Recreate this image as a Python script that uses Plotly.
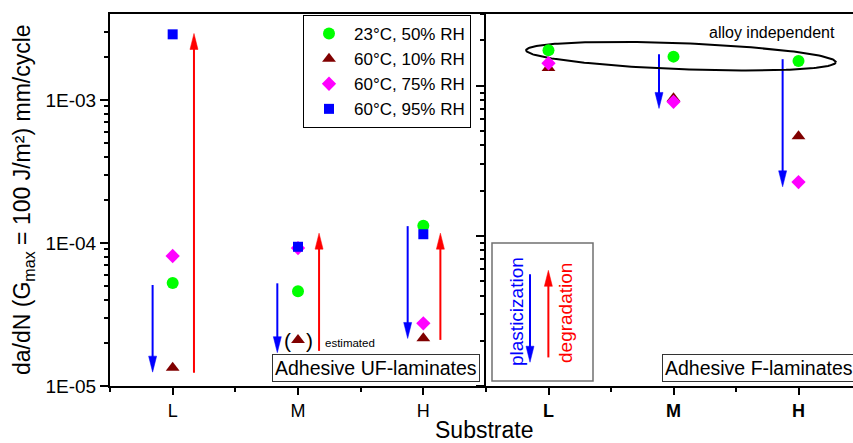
import numpy as np
import plotly.graph_objects as go

# ---------------- data ----------------
substrates = ["L", "M", "H"]
cat_x = [1, 2, 3]

series_names = ["23°C, 50% RH", "60°C, 10% RH", "60°C, 75% RH", "60°C, 95% RH"]
series_colors = ["#00ff00", "#800000", "#ff00ff", "#0000ff"]
series_symbols = ["circle", "triangle-up", "diamond", "square"]
series_sizes = [12, 12, 11, 10]

# Adhesive UF-laminates (left panel), da/dN in mm/cycle
uf_23_50 = [5.25e-5, 4.6e-5, 1.32e-4]
uf_60_10 = [1.34e-5, 2.1e-5, 2.16e-5]   # M value is estimated
uf_60_75 = [8.1e-5, 9.2e-5, 2.74e-5]
uf_60_95 = [2.87e-3, 9.4e-5, 1.15e-4]

# Adhesive F-laminates (right panel)
f_23_50 = [1.72e-3, 1.56e-3, 1.46e-3]
f_60_10 = [1.31e-3, 8.25e-4, 4.6e-4]
f_60_75 = [1.41e-3, 7.8e-4, 2.28e-4]

# arrows (x position on category axis, start value, end value)
uf_plast_x = [0.84, 1.835, 2.875]
uf_plast_from = [5.08e-5, 5.22e-5, 1.31e-4]
uf_plast_to = [1.25e-5, 1.71e-5, 2.15e-5]
uf_degr_x = [1.17, 2.168, 3.136]
uf_degr_from = [1.24e-5, 1.76e-5, 2.1e-5]
uf_degr_to = [2.91e-3, 1.17e-4, 1.17e-4]
f_plast_x = [1.884, 2.873]
f_plast_from = [1.62e-3, 1.50e-3]
f_plast_to = [7.05e-4, 2.12e-4]
key_x = [0.852, 0.999]
key_from = [5.54e-5, 1.55e-5]
key_to = [1.44e-5, 5.89e-5]
key_colors = ["#0000ff", "#ff0000"]

# ellipse "alloy independent" (centre on right panel)
ell_cx = 2.06
ell_cy = 1.57e-3

y_tickvals = [1e-5, 1e-4, 1e-3]
y_ticktext = ["1E-05", "1E-04", "1E-03"]

# ---------------- layout constants ----------------
W, H = 853, 443
ML, MR, MT, MB = 110, 0, 14, 57
PW, PH = W - ML - MR, H - MT - MB
split_px = 486
d1 = (split_px - ML) / PW
x1_range = [0.5, 3.5]
y1_range = [-5, -2.4]
x2_range = [0.5, 0.5 + (W - split_px) / 125.0]
y2_range = [-5, -2.523]
ppx1 = (split_px - ML) / (x1_range[1] - x1_range[0])
ppd1 = PH / (y1_range[1] - y1_range[0])
ppx2 = (W - split_px) / (x2_range[1] - x2_range[0])
ppd2 = PH / (y2_range[1] - y2_range[0])

FONT = "Liberation Sans, Arial, sans-serif"

fig = go.Figure()


def add_arrow(xa, ya, x, v0, v1, color, ppx, ppd, head_len=16, head_w=8, lw=2):
    l0, l1 = np.log10(v0), np.log10(v1)
    sgn = 1 if l1 > l0 else -1
    lbase = l1 - sgn * head_len / ppd
    hw = head_w / 2 / ppx
    fig.add_trace(go.Scatter(x=[x, x], y=[10 ** l0, 10 ** (lbase + sgn * 1.5 / ppd)],
                             mode="lines", line=dict(color=color, width=lw),
                             xaxis=xa, yaxis=ya, showlegend=False, hoverinfo="skip"))
    fig.add_trace(go.Scatter(x=[x - hw, x + hw, x, x - hw],
                             y=[10 ** lbase, 10 ** lbase, 10 ** l1, 10 ** lbase],
                             mode="lines", fill="toself", fillcolor=color,
                             line=dict(color=color, width=0.5),
                             xaxis=xa, yaxis=ya, showlegend=False, hoverinfo="skip"))


for x, a, b in zip(uf_plast_x, uf_plast_from, uf_plast_to):
    add_arrow("x", "y", x, a, b, "#0000ff", ppx1, ppd1)
for x, a, b in zip(uf_degr_x, uf_degr_from, uf_degr_to):
    add_arrow("x", "y", x, a, b, "#ff0000", ppx1, ppd1)
for x, a, b in zip(f_plast_x, f_plast_from, f_plast_to):
    add_arrow("x2", "y2", x, a, b, "#0000ff", ppx2, ppd2)
for x, a, b, c in zip(key_x, key_from, key_to, key_colors):
    add_arrow("x2", "y2", x, a, b, c, ppx2, ppd2)

# ellipse (pixel semi-axes & tilt -> data units of right panel)
t = np.linspace(0, 2 * np.pi, 200)
a_px, b_px, th = 155, 13, np.deg2rad(2.2)
px = a_px * np.cos(t) * np.cos(th) - b_px * np.sin(t) * np.sin(th)
py = a_px * np.cos(t) * np.sin(th) + b_px * np.sin(t) * np.cos(th)
fig.add_trace(go.Scatter(x=ell_cx + px / ppx2, y=10 ** (np.log10(ell_cy) - py / ppd2),
                         mode="lines", line=dict(color="black", width=2),
                         xaxis="x2", yaxis="y2", showlegend=False, hoverinfo="skip"))

uf_series = [uf_23_50, uf_60_10, uf_60_75, uf_60_95]
f_series = [f_23_50, f_60_10, f_60_75, None]
for i, name in enumerate(series_names):
    mk = dict(color=series_colors[i], symbol=series_symbols[i], size=series_sizes[i],
              line=dict(width=0))
    fig.add_trace(go.Scatter(x=cat_x, y=uf_series[i], mode="markers", name=name,
                             marker=mk, xaxis="x", yaxis="y", legendgroup=name,
                             cliponaxis=False))
    if f_series[i] is not None:
        fig.add_trace(go.Scatter(x=cat_x, y=f_series[i], mode="markers", name=name,
                                 marker=mk, xaxis="x2", yaxis="y2", legendgroup=name,
                                 showlegend=False, cliponaxis=False))


def minor_vals(lo, hi):
    out = []
    for e in range(lo, hi + 1):
        for m in range(2, 10):
            out.append(m * 10.0 ** e)
    return out


axis_common = dict(showline=True, linecolor="black", linewidth=2, ticks="outside",
                   tickcolor="black", tickwidth=1.5, showgrid=False, zeroline=False)

fig.update_layout(
    width=W, height=H,
    margin=dict(l=ML, r=MR, t=MT, b=MB),
    paper_bgcolor="white", plot_bgcolor="white",
    font=dict(family=FONT, color="black"),
    xaxis=dict(domain=[0, d1], range=x1_range, tickvals=cat_x, ticktext=substrates,
               ticklen=7, mirror=True, tickfont=dict(size=18),
               minor=dict(tickvals=[0.5, 1.5, 2.5, 3.5], ticklen=4, ticks="outside",
                          tickcolor="black", tickwidth=1.5),
               **axis_common),
    yaxis=dict(type="log", range=y1_range, tickvals=y_tickvals, ticktext=y_ticktext,
               ticklen=8, tickfont=dict(size=19),
               minor=dict(tickvals=minor_vals(-5, -3), ticklen=4, ticks="outside",
                          tickcolor="black", tickwidth=1.5),
               **axis_common),
    xaxis2=dict(domain=[d1, 1], range=x2_range, tickvals=cat_x,
                ticktext=["<b>%s</b>" % s for s in substrates],
                ticklen=7, mirror=True, tickfont=dict(size=18), anchor="y2",
                minor=dict(tickvals=[0.5, 1.5, 2.5, 3.5], ticklen=4, ticks="outside",
                           tickcolor="black", tickwidth=1.5),
                **axis_common),
    yaxis2=dict(type="log", range=y2_range, tickvals=y_tickvals, showticklabels=False,
                ticklen=8, anchor="x2",
                minor=dict(tickvals=minor_vals(-5, -3), ticklen=4, ticks="outside",
                           tickcolor="black", tickwidth=1.5),
                **axis_common),
    legend=dict(x=(303 - ML) / PW, y=1 - (15 - MT) / PH, xanchor="left", yanchor="top",
                bgcolor="white", bordercolor="black", borderwidth=1,
                font=dict(size=17, family=FONT), itemwidth=40,
                traceorder="normal", tracegroupgap=0),
    showlegend=True,
)


def px2paper(xp, yp):
    return (xp - ML) / PW, (H - MB - yp) / PH


ann = []
# axis titles
ann.append(dict(text="da/dN (G<sub>max</sub> = 100 J/m²) mm/cycle", xref="paper", yref="paper",
                x=0, y=px2paper(0, 200)[1], xshift=-(ML - 23), textangle=-90,
                showarrow=False, font=dict(size=23), xanchor="center", yanchor="middle"))
ann.append(dict(text="Substrate", xref="paper", yref="paper", x=px2paper(484, 0)[0],
                y=px2paper(0, 430)[1], showarrow=False, font=dict(size=23),
                xanchor="center", yanchor="middle"))
# panel labels
x_, y_ = px2paper(376, 367.5)
ann.append(dict(text="Adhesive UF-laminates", xref="paper", yref="paper", x=x_, y=y_,
                showarrow=False, font=dict(size=19.5), xanchor="center", yanchor="middle",
                bordercolor="#333", borderwidth=1, borderpad=2, bgcolor="white"))
x_, y_ = px2paper(662, 367.5)
ann.append(dict(text="Adhesive F-laminates", xref="paper", yref="paper", x=x_, y=y_,
                showarrow=False, font=dict(size=19.5), xanchor="left", yanchor="middle",
                bordercolor="#333", borderwidth=1, borderpad=2, bgcolor="white"))
# key texts
x_, y_ = px2paper(516, 312)
ann.append(dict(text="plasticization", xref="paper", yref="paper", x=x_, y=y_,
                showarrow=False, font=dict(size=19, color="#0000ff"), textangle=-90,
                xanchor="center", yanchor="middle"))
x_, y_ = px2paper(565, 313)
ann.append(dict(text="degradation", xref="paper", yref="paper", x=x_, y=y_,
                showarrow=False, font=dict(size=19, color="#ff0000"), textangle=-90,
                xanchor="center", yanchor="middle"))
# alloy independent
x_, y_ = px2paper(772, 33)
ann.append(dict(text="alloy independent", xref="paper", yref="paper", x=x_, y=y_,
                showarrow=False, font=dict(size=16), xanchor="center", yanchor="middle"))
# estimated marker brackets
est_y = np.log10(uf_60_10[1])
ann.append(dict(text="(", xref="x", yref="y", x=2 - 10.5 / ppx1, y=est_y, showarrow=False,
                font=dict(size=21), xanchor="center", yanchor="middle", yshift=-1))
ann.append(dict(text=")", xref="x", yref="y", x=2 + 11.5 / ppx1, y=est_y, showarrow=False,
                font=dict(size=21), xanchor="center", yanchor="middle", yshift=-1))
ann.append(dict(text="estimated", xref="x", yref="y", x=2 + 51.5 / ppx1, y=est_y,
                showarrow=False, font=dict(size=11.5), xanchor="center", yanchor="middle",
                yshift=-3))
fig.update_layout(annotations=ann)

# key box
kx0, ky0 = px2paper(492, 381)
kx1, ky1 = px2paper(593, 243)
fig.add_shape(type="rect", xref="paper", yref="paper", x0=kx0, y0=ky0, x1=kx1, y1=ky1,
              line=dict(color="#707070", width=1.5), layer="below")

fig.write_html("out.html", config={"displayModeBar": False},
               post_script="document.body.style.margin='0';document.body.style.overflow='hidden';")
